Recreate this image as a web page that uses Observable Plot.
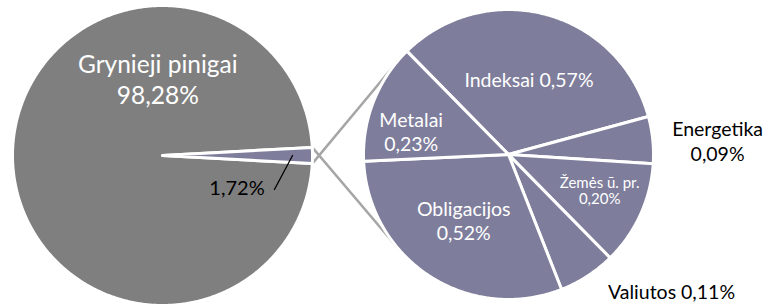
<!DOCTYPE html>
<html><head><meta charset="utf-8">
<script src="https://cdn.jsdelivr.net/npm/d3@7"></script>
<script src="https://cdn.jsdelivr.net/npm/@observablehq/plot@0.6"></script>
<style>body{margin:0;background:#fff;overflow:hidden}</style>
</head><body><div id="chart"></div>
<script>
// ---- data ----
const mainCategories = ["Grynieji pinigai", "Kiti"];
const mainValues = [98.28, 1.72];
const mainLabelText = ["Grynieji pinigai\n98,28%", "1,72%"];
const subCategories = ["Indeksai", "Energetika", "Žemės ū. pr.", "Valiutos", "Obligacijos", "Metalai"];
const subValues = [0.57, 0.09, 0.20, 0.11, 0.52, 0.23];
const subLabelText = ["Indeksai 0,57%", "Energetika\n0,09%", "Žemės ū. pr.\n0,20%", "Valiutos 0,11%", "Obligacijos\n0,52%", "Metalai\n0,23%"];

// ---- layout ----
const W = 763, H = 306;
const LP = {cx: 162, cy: 155, r: 150};
const RP = {cx: 508, cy: 154, r: 145};
const GRAY = "#7f7f7f", PURPLE = "#7e7d9b", LINE = "#a6a6a6";
const rad = d => d * Math.PI / 180;
const pt = (c, ang, rr) => ({x: c.cx + rr * Math.sin(rad(ang)), y: c.cy - rr * Math.cos(rad(ang))});

function slices(values, start) {
  const total = d3.sum(values);
  let a = start;
  return values.map((v, i) => {
    const span = v / total * 360;
    const s = {i, a0: a, a1: a + span, mid: a + span / 2};
    a += span;
    return s;
  });
}
function polygons(c, sl, names) {
  const out = [];
  sl.forEach(s => {
    out.push({...pt(c, 0, 0), key: names[s.i]});
    const n = Math.max(2, Math.ceil((s.a1 - s.a0) / 0.5));
    for (let k = 0; k <= n; k++) out.push({...pt(c, s.a0 + (s.a1 - s.a0) * k / n, c.r), key: names[s.i]});
  });
  return out;
}

const mainHalf = mainValues[1] / d3.sum(mainValues) * 180;
const mainSl = slices(mainValues, 90 + mainHalf);
const subSl = slices(subValues, -44.5);

const mainPoly = polygons(LP, mainSl, mainCategories);
const subPoly = polygons(RP, subSl, subCategories);

// connectors: from the small slice's outer corners to the secondary pie
const kiti = mainSl[1];
const connectors = [
  [pt(LP, kiti.a1, LP.r), pt(RP, 270 + 42, RP.r)],
  [pt(LP, kiti.a0 + 360, LP.r), pt(RP, 270 - 42, RP.r)]
].flatMap((seg, j) => seg.map(p => ({...p, j})));

// label placement (polar: radius factor, angle offset from slice middle)
const mainLabelPlace = [{rf: 0.515, da: 86.5}, {rf: 0.54, da: 23}];
const subLabelPlace = [
  {rf: 0.54, da: 0}, {rf: 1.445, da: 2.0}, {rf: 0.676, da: -3},
  {rf: 1.468, da: -17}, {rf: 0.55, da: 1.2}, {rf: 0.69, da: -8}
];
const subLabelStyle = [
  {fill: "white", size: 19.5, lh: 1.25}, {fill: "black", size: 19.5, lh: 1.25},
  {fill: "white", size: 15, lh: 1.12}, {fill: "black", size: 19.5, lh: 1.25},
  {fill: "white", size: 19.5, lh: 1.25}, {fill: "white", size: 19.5, lh: 1.25}
];
const mainLabelStyle = [{fill: "white", size: 24.5, lh: 1.28}, {fill: "black", size: 20, lh: 1.2}];

const leader = [pt(LP, kiti.mid + 16.9, LP.r * 0.78), pt(LP, kiti.mid, LP.r * 0.867)];

const textMarks = [];
mainSl.forEach((s, i) => {
  const p = pt(LP, s.mid + mainLabelPlace[i].da, LP.r * mainLabelPlace[i].rf);
  const st = mainLabelStyle[i];
  textMarks.push(Plot.text([{...p, t: mainLabelText[i]}], {x: "x", y: "y", text: "t", fill: st.fill, fontSize: st.size, lineHeight: st.lh, textAnchor: "middle"}));
});
subSl.forEach((s, i) => {
  const p = pt(RP, s.mid + subLabelPlace[i].da, RP.r * subLabelPlace[i].rf);
  const st = subLabelStyle[i];
  textMarks.push(Plot.text([{...p, t: subLabelText[i]}], {x: "x", y: "y", text: "t", fill: st.fill, fontSize: st.size, lineHeight: st.lh, textAnchor: "middle"}));
});

const chart = Plot.plot({
  width: W, height: H, margin: 0,
  x: {domain: [0, W], range: [0, W], axis: null},
  y: {domain: [0, H], range: [0, H], axis: null},
  style: {fontFamily: "Lato, sans-serif", background: "white"},
  marks: [
    Plot.line(connectors, {x: "x", y: "y", z: "j", stroke: LINE, strokeWidth: 2.5}),
    Plot.line(mainPoly, {x: "x", y: "y", z: "key", curve: "linear-closed",
      fill: d => d.key === mainCategories[0] ? GRAY : PURPLE, stroke: "white", strokeWidth: 3, strokeLinejoin: "round"}),
    Plot.line(subPoly, {x: "x", y: "y", z: "key", curve: "linear-closed",
      fill: PURPLE, stroke: "white", strokeWidth: 3, strokeLinejoin: "round"}),
    Plot.line(leader, {x: "x", y: "y", stroke: "black", strokeWidth: 1.3}),
    ...textMarks
  ]
});
document.getElementById("chart").appendChild(chart);
</script>
</body></html>
